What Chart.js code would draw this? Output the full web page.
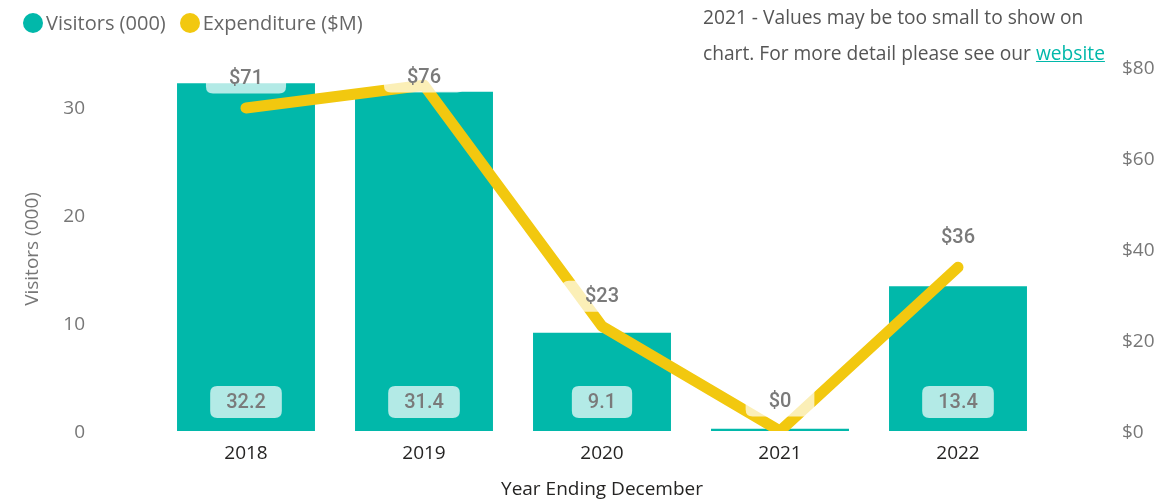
<!DOCTYPE html>
<html><head><meta charset="utf-8">
<script src="https://cdn.jsdelivr.net/npm/chart.js@4.4.1/dist/chart.umd.min.js"></script>
<style>
html,body{margin:0;padding:0;background:#fff;width:1165px;height:501px;overflow:hidden;font-family:'Open Sans',sans-serif}
#wrap{position:relative;width:1165px;height:501px}
#c{position:absolute;left:0;top:0}
.legend{position:absolute;left:23px;top:9px;display:flex;align-items:center;font-size:20px;color:#666;white-space:nowrap}
.legend span.item{display:flex;align-items:center;margin-right:14px}
.dot{width:20px;height:20px;border-radius:50%;display:inline-block;margin-right:3px}
.note{position:absolute;left:703px;top:-1px;font-size:19.2px;color:#555;line-height:36px;white-space:nowrap}
.note a{color:#01B8AA;text-decoration:underline}
</style>
</head><body>
<div id="wrap">
<canvas id="c" width="1165" height="501"></canvas>
<div class="legend">
  <span class="item"><span class="dot" style="background:#01B8AA"></span>Visitors (000)</span>
  <span class="item"><span class="dot" style="background:#F2C80F"></span>Expenditure ($M)</span>
</div>
<div class="note">2021 - Values may be too small to show on<br>chart. For more detail please see our <a href="#">website</a></div>
</div>
<script>
const categories = ['2018', '2019', '2020', '2021', '2022'];
const visitors = [32.2, 31.4, 9.1, 0.2, 13.4];
const expenditure = [71, 76, 23, 0, 36];
const visitorLabels = ['32.2', '31.4', '9.1', '', '13.4'];
const expenditureLabels = ['$71', '$76', '$23', '$0', '$36'];
const leftTicks = [0, 10, 20, 30];
const rightTicks = [0, 20, 40, 60, 80];

function roundRect(ctx, x, y, w, h, r) {
  ctx.beginPath();
  ctx.moveTo(x + r, y);
  ctx.lineTo(x + w - r, y);
  ctx.quadraticCurveTo(x + w, y, x + w, y + r);
  ctx.lineTo(x + w, y + h - r);
  ctx.quadraticCurveTo(x + w, y + h, x + w - r, y + h);
  ctx.lineTo(x + r, y + h);
  ctx.quadraticCurveTo(x, y + h, x, y + h - r);
  ctx.lineTo(x, y + r);
  ctx.quadraticCurveTo(x, y, x + r, y);
  ctx.closePath();
}

const labelPlugin = {
  id: 'valueLabels',
  afterDatasetsDraw(chart) {
    const ctx = chart.ctx;
    const area = chart.chartArea;
    ctx.save();
    ctx.font = '500 20px Roboto';
    ctx.textAlign = 'center';
    ctx.textBaseline = 'middle';
    const bm = chart.getDatasetMeta(0);
    bm.data.forEach((el, i) => {
      const txt = visitorLabels[i];
      if (!txt) return;
      const w = ctx.measureText(txt).width + 32, h = 32;
      const cx = el.x, cy = el.base - 29;
      ctx.fillStyle = 'rgba(255,255,255,0.7)';
      roundRect(ctx, cx - w / 2, cy - h / 2, w, h, 7);
      ctx.fill();
      ctx.fillStyle = '#7a7a7a';
      ctx.fillText(txt, cx, cy + 1);
    });
    const lm = chart.getDatasetMeta(1);
    lm.data.forEach((el, i) => {
      const txt = expenditureLabels[i];
      const w = ctx.measureText(txt).width + 46, h = 31;
      const cx = el.x;
      const cy = Math.max(el.y - 30, area.top + 10);
      ctx.fillStyle = 'rgba(255,255,255,0.7)';
      roundRect(ctx, cx - w / 2, cy - h / 2, w, h, 7);
      ctx.fill();
      ctx.fillStyle = '#7a7a7a';
      ctx.fillText(txt, cx, cy + 1);
    });
    ctx.restore();
  }
};

function fixVertical(width) {
  return s => { s.width = width; s.paddingTop = 0; s.paddingBottom = 0; };
}

new Chart(document.getElementById('c'), {
  data: {
    labels: categories,
    datasets: [
      {
        type: 'bar', label: 'Visitors (000)', data: visitors,
        backgroundColor: '#01B8AA', yAxisID: 'y', order: 2,
        barPercentage: 0.775, categoryPercentage: 1
      },
      {
        type: 'line', label: 'Expenditure ($M)', data: expenditure,
        borderColor: '#F2C80F', borderWidth: 11, pointRadius: 0, pointHoverRadius: 0, tension: 0,
        yAxisID: 'y1', order: 1, borderCapStyle: 'round', borderJoinStyle: 'round'
      }
    ]
  },
  options: {
    responsive: false,
    animation: false,
    layout: { autoPadding: false, padding: { top: 67, left: 0, right: 0, bottom: 0 } },
    plugins: { legend: { display: false }, tooltip: { enabled: false } },
    scales: {
      x: {
        type: 'category', offset: true,
        grid: { display: false, drawTicks: false }, border: { display: false },
        ticks: { color: '#252423', font: { family: 'Open Sans', size: 19 }, padding: 11 },
        title: { display: true, text: 'Year Ending December', color: '#252423',
          font: { family: 'Open Sans', size: 19 }, padding: { top: 0, bottom: 0 } },
        afterFit: s => { s.height = 70; s.paddingLeft = 0; s.paddingRight = 0; }
      },
      y: {
        position: 'left', min: 0, max: 33.7,
        grid: { display: false, drawTicks: false }, border: { display: false },
        afterBuildTicks: s => { s.ticks = leftTicks.map(v => ({ value: v })); },
        ticks: { color: '#777', font: { family: 'Open Sans', size: 19 }, padding: 72, labelOffset: 2 },
        title: { display: true, text: 'Visitors (000)', color: '#777',
          font: { family: 'Open Sans', size: 19 }, padding: { top: 21, bottom: 0 } },
        afterFit: fixVertical(157)
      },
      y1: {
        position: 'right', min: 0, max: 80,
        grid: { display: false, drawTicks: false }, border: { display: false },
        afterBuildTicks: s => { s.ticks = rightTicks.map(v => ({ value: v })); },
        ticks: { color: '#777', font: { family: 'Open Sans', size: 19 }, padding: 75, labelOffset: 2,
          callback: v => '$' + v },
        afterFit: fixVertical(118)
      }
    }
  },
  plugins: [labelPlugin]
});
</script>
</body></html>
